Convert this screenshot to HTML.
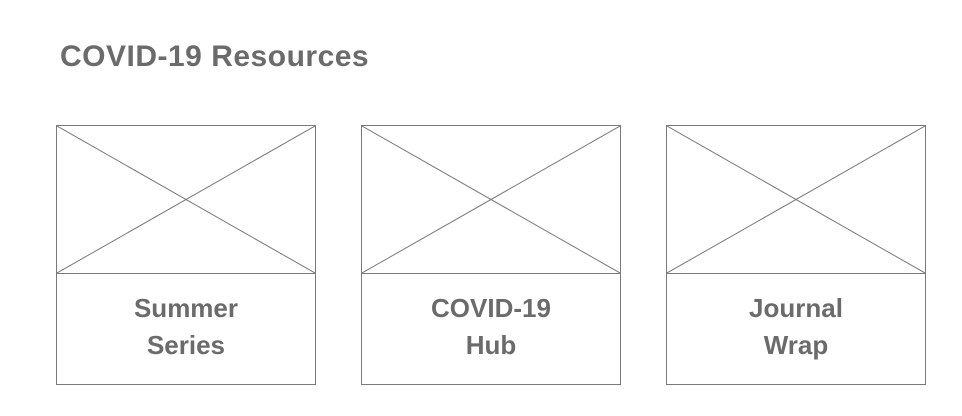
<!DOCTYPE html>
<html><head><meta charset="utf-8"><style>
body{margin:0;width:962px;height:416px;background:#fff;overflow:hidden;font-family:"Liberation Sans",sans-serif;position:relative}
h1{position:absolute;left:60px;top:37px;margin:0;font-size:30px;font-weight:bold;color:#6b6b6b;letter-spacing:0.5px;line-height:40px}
.card{position:absolute;top:125px;width:258px;height:258px;border:1px solid #7a7a7a;}
.card svg{position:absolute;left:0;top:0}
.lbl{position:absolute;left:0;top:147px;width:258px;height:111px;border-top:1px solid #7a7a7a;text-align:center;font-size:26px;font-weight:bold;color:#6b6b6b;line-height:37px;padding-top:16px;box-sizing:border-box}
</style></head><body>
<h1>COVID-19 Resources</h1>
<div class="card" style="left:56px">
<svg width="258" height="147"><line x1="0" y1="0" x2="258" y2="147" stroke="#7a7a7a"/><line x1="258" y1="0" x2="0" y2="147" stroke="#7a7a7a"/></svg>
<div class="lbl">Summer<br>Series</div></div>
<div class="card" style="left:361px">
<svg width="258" height="147"><line x1="0" y1="0" x2="258" y2="147" stroke="#7a7a7a"/><line x1="258" y1="0" x2="0" y2="147" stroke="#7a7a7a"/></svg>
<div class="lbl">COVID-19<br>Hub</div></div>
<div class="card" style="left:666px">
<svg width="258" height="147"><line x1="0" y1="0" x2="258" y2="147" stroke="#7a7a7a"/><line x1="258" y1="0" x2="0" y2="147" stroke="#7a7a7a"/></svg>
<div class="lbl">Journal<br>Wrap</div></div>
</body></html>
